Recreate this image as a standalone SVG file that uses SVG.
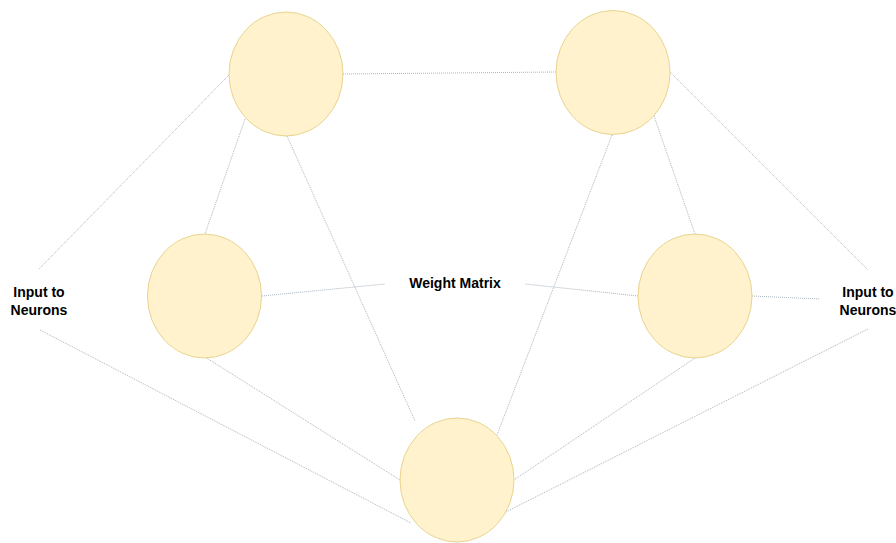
<svg xmlns="http://www.w3.org/2000/svg" width="896" height="543" viewBox="0 0 896 543">
<style>
.n{fill:#fff2cc;stroke:#e8d48f;stroke-width:1}
.c{stroke:#a9b4bf;stroke-width:1;stroke-dasharray:1 1;fill:none}
.t{font-family:"Liberation Sans",Arial,sans-serif;font-size:14px;font-weight:bold;fill:#000;text-anchor:middle}
</style>
<rect width="896" height="543" fill="#fff"/>
<g id="connectors">
<line class="c" x1="343" y1="74" x2="556" y2="72"/>
<line class="c" x1="229" y1="75" x2="39" y2="269"/>
<line class="c" x1="245" y1="119" x2="205" y2="234"/>
<line class="c" x1="287" y1="136" x2="415" y2="421"/>
<line class="c" x1="262" y1="296" x2="385" y2="284"/>
<line class="c" x1="205" y1="357" x2="400" y2="480"/>
<line class="c" x1="40" y1="330" x2="411" y2="523"/>
<line class="c" x1="670" y1="72" x2="868" y2="270"/>
<line class="c" x1="654" y1="116" x2="695" y2="234"/>
<line class="c" x1="612" y1="135" x2="497" y2="435"/>
<line class="c" x1="638" y1="296" x2="525" y2="284"/>
<line class="c" x1="752" y1="296" x2="820" y2="299"/>
<line class="c" x1="695" y1="358" x2="514" y2="480"/>
<line class="c" x1="868" y1="329" x2="484" y2="523"/>
</g>
<g id="n1"><ellipse class="n" cx="286" cy="74" rx="57" ry="62"/></g>
<g id="n2"><ellipse class="n" cx="613" cy="72.5" rx="57" ry="62"/></g>
<g id="n3"><ellipse class="n" cx="204.5" cy="296" rx="57" ry="62"/></g>
<g id="n4"><ellipse class="n" cx="695" cy="296" rx="57" ry="62"/></g>
<g id="n5"><ellipse class="n" cx="457" cy="480" rx="57" ry="62"/></g>
<g id="label-left"><text class="t" x="39" y="297">Input to</text><text class="t" x="39" y="315">Neurons</text></g>
<g id="label-right"><text class="t" x="868" y="297">Input to</text><text class="t" x="868" y="315">Neurons</text></g>
<g id="label-weight"><text class="t" x="455" y="288">Weight Matrix</text></g>
</svg>
